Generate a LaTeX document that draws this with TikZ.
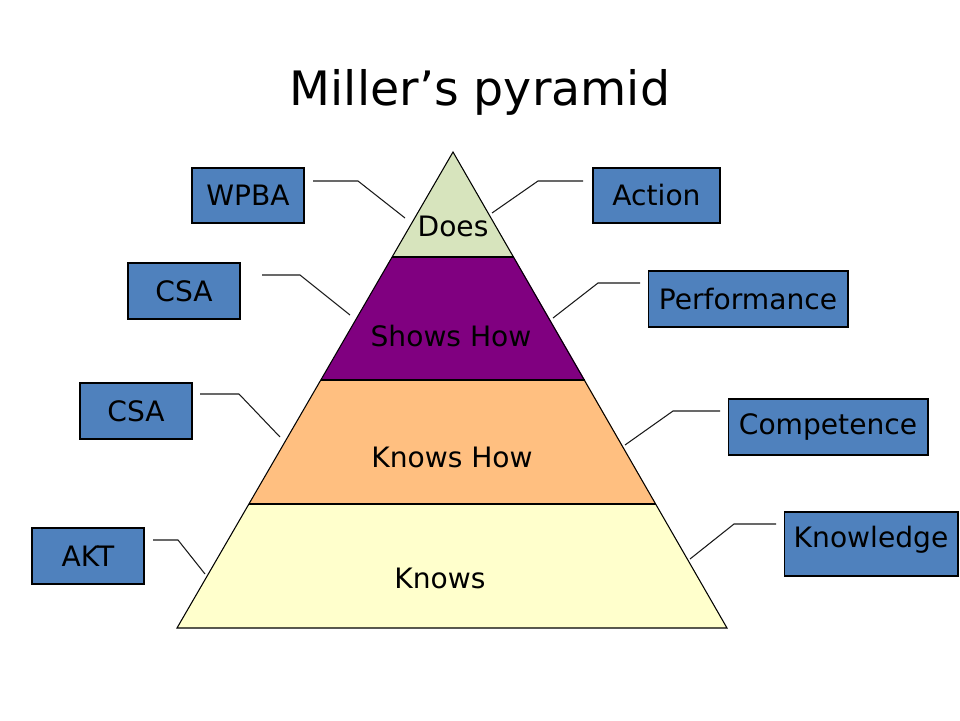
\documentclass[tikz,border=0pt]{standalone}
\usepackage{fontspec}
\setmainfont{DejaVu Sans}
\usepackage{tikz}
\usetikzlibrary{calc, positioning}
\definecolor{doesGreen}{RGB}{215,228,189}
\definecolor{showsPurple}{RGB}{128,0,128}
\definecolor{knowsHowOrange}{RGB}{255,191,128}
\definecolor{knowsYellow}{RGB}{255,255,204}
\definecolor{boxBlue}{RGB}{79,129,189}
\definecolor{leadGray}{gray}{0.1}
\newcommand{\labelfont}{\fontsize{16pt}{19pt}\selectfont}

\begin{document}
\begin{tikzpicture}[x=0.02cm, y=-0.02cm,
    box/.style={draw=black, fill=boxBlue, line width=0.6pt, inner sep=0pt, font=\labelfont},
    layer/.style={inner sep=0pt, font=\labelfont},
    lead/.style={leadGray, line width=0.6pt}]
    \useasboundingbox (0,0) rectangle (960,720);

    \node (title) at (480,92) {\fontsize{27pt}{32pt}\selectfont Miller’s pyramid};

    % pyramid corners
    \coordinate (T) at (453,152);
    \coordinate (L) at (177,628);
    \coordinate (R) at (727,628);
    % level cuts
    \coordinate (L1) at (392,257); \coordinate (R1) at (514,257);
    \coordinate (L2) at (321,380); \coordinate (R2) at (585,380);
    \coordinate (L3) at (249,504); \coordinate (R3) at (656,504);

    \fill[doesGreen] (T) -- (R1) -- (L1) -- cycle;
    \fill[showsPurple] (L1) -- (R1) -- (R2) -- (L2) -- cycle;
    \fill[knowsHowOrange] (L2) -- (R2) -- (R3) -- (L3) -- cycle;
    \fill[knowsYellow] (L3) -- (R3) -- (R) -- (L) -- cycle;
    \draw[line width=0.6pt] (T) -- (R) -- (L) -- cycle;
    \draw[line width=1pt] (L1) -- (R1) (L2) -- (R2) (L3) -- (R3);

    \node[layer] (does) at (453,226) {Does};
    \node[layer] (shows) at (451,336) {Shows How};
    \node[layer] (knowshow) at (452,457) {Knows How};
    \node[layer] (knows) at (440,578) {Knows};

    % assessment boxes, left
    \node[box, minimum width=2.24cm, minimum height=1.1cm] (wpba) at (248,195.5) {WPBA};
    \node[box, minimum width=2.24cm, minimum height=1.12cm] (csaA) at (184,291) {CSA};
    \node[box, minimum width=2.24cm, minimum height=1.12cm] (csaB) at (136,411) {CSA};
    \node[box, minimum width=2.24cm, minimum height=1.12cm] (akt) at (88,556) {AKT};
    % level boxes, right
    \node[box, minimum width=2.54cm, minimum height=1.1cm] (action) at (656.5,195.5) {Action};
    \node[box, minimum width=4cm, minimum height=1.12cm] (perf) at (748,299) {Performance};
    \node[box, minimum width=4cm, minimum height=1.12cm] (comp) at (828,427) {Competence};
    \node[box, minimum width=3.48cm, minimum height=1.28cm, text depth=8.5pt] (know) at (871,544) {Knowledge};

    % leader lines
    \coordinate (wpbaA) at (313,181); \coordinate (wpbaB) at (358,181); \coordinate (wpbaC) at (405,218);
    \coordinate (csaAA) at (262,275); \coordinate (csaAB) at (300,275); \coordinate (csaAC) at (350,315);
    \coordinate (csaBA) at (200,394); \coordinate (csaBB) at (239,394); \coordinate (csaBC) at (280,437);
    \coordinate (aktA) at (153,540); \coordinate (aktB) at (178,540); \coordinate (aktC) at (205,574);
    \coordinate (actionA) at (583,181); \coordinate (actionB) at (538,181); \coordinate (actionC) at (492,213);
    \coordinate (perfA) at (640,283); \coordinate (perfB) at (598,283); \coordinate (perfC) at (553,318);
    \coordinate (compA) at (720,411); \coordinate (compB) at (673,411); \coordinate (compC) at (625,445);
    \coordinate (knowA) at (776,524); \coordinate (knowB) at (734,524); \coordinate (knowC) at (690,559);

    \foreach \n in {wpba, csaA, csaB, akt, action, perf, comp, know}
        \draw[lead] (\n A) -- (\n B) -- (\n C);
\end{tikzpicture}
\end{document}
